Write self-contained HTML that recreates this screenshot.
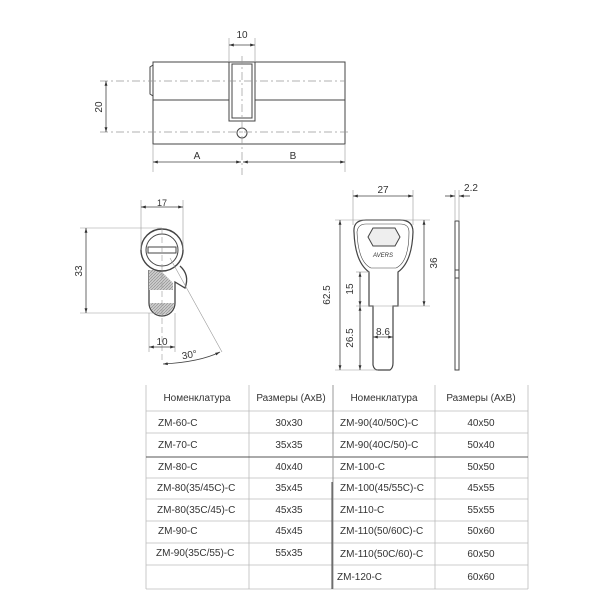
<!DOCTYPE html>
<html><head><style>body{margin:0;background:#fff}svg{display:block}text{font-family:"Liberation Sans",sans-serif;fill:#333}</style></head><body>
<svg width="600" height="600" viewBox="0 0 600 600" xmlns="http://www.w3.org/2000/svg">
<defs><marker id="a" viewBox="0 0 10 10" refX="10" refY="5" markerWidth="6" markerHeight="6" orient="auto-start-reverse"><path d="M0,2 L10,5 L0,8z" fill="#333"/></marker>
<pattern id="h" width="3" height="3" patternUnits="userSpaceOnUse"><rect width="3" height="3" fill="#ccc"/><path d="M0,3 L3,0" stroke="#888" stroke-width="0.6"/></pattern></defs>
<g stroke="#444" fill="none" stroke-width="1">
<rect x="153" y="62" width="192" height="82"/>
<line x1="153" y1="100" x2="345" y2="100"/>
<path d="M153,65 L150,67 L150,94 L153,96"/>
<rect x="229" y="62" width="26" height="59" fill="#fff"/>
<rect x="232" y="64" width="20" height="54"/>
<circle cx="242" cy="133" r="5" fill="#fff"/>
<g stroke="#999" stroke-width="0.7" stroke-dasharray="8,3,2,3"><line x1="100" y1="81" x2="345" y2="81"/><line x1="100" y1="132" x2="350" y2="132"/><line x1="242" y1="56" x2="242" y2="175"/></g>
<g stroke="#999" stroke-width="0.6"><line x1="229" y1="38" x2="229" y2="62"/><line x1="255" y1="38" x2="255" y2="62"/><line x1="153" y1="144" x2="153" y2="172"/><line x1="345" y1="144" x2="345" y2="172"/></g>
<line x1="229" y1="45" x2="255" y2="45" marker-start="url(#a)" marker-end="url(#a)" stroke-width="0.8"/>
<line x1="106" y1="81" x2="106" y2="132" marker-start="url(#a)" marker-end="url(#a)" stroke-width="0.8"/>
<line x1="153" y1="162" x2="241" y2="162" marker-start="url(#a)" marker-end="url(#a)" stroke-width="0.8"/>
<line x1="243" y1="162" x2="345" y2="162" marker-start="url(#a)" marker-end="url(#a)" stroke-width="0.8"/>
<path d="M149,270 L149,303 A12,12 0 0 0 175,303 L175,282 L185,288 Q190,275 180,266" fill="#fff" stroke-width="1.3"/>
<path d="M149,270 L149,290 L173,290 L173,283 L160,270z" fill="url(#h)" stroke="none"/>
<path d="M150,303 L174,303 A12,12 0 0 1 150,303z" fill="url(#h)" stroke="none"/>
<circle cx="162" cy="250" r="21" fill="#fff" stroke-width="1.4"/>
<circle cx="162" cy="250" r="16"/>
<rect x="148" y="247" width="28" height="6"/>
<g stroke="#999" stroke-width="0.6"><line x1="141" y1="200" x2="141" y2="250"/><line x1="183" y1="200" x2="183" y2="250"/><line x1="80" y1="228" x2="162" y2="228"/><line x1="80" y1="313" x2="160" y2="313"/><line x1="149" y1="313" x2="149" y2="352"/><line x1="175" y1="313" x2="175" y2="352"/><line x1="162" y1="228" x2="162" y2="360" stroke-dasharray="6,3"/><line x1="170" y1="258" x2="222" y2="352"/></g>
<line x1="141" y1="207" x2="183" y2="207" marker-start="url(#a)" marker-end="url(#a)" stroke-width="0.8"/>
<line x1="86" y1="228" x2="86" y2="313" marker-start="url(#a)" marker-end="url(#a)" stroke-width="0.8"/>
<line x1="149" y1="347" x2="175" y2="347" marker-start="url(#a)" marker-end="url(#a)" stroke-width="0.8"/>
<path d="M163,364 Q200,362 220,352" marker-start="url(#a)" marker-end="url(#a)" stroke-width="0.8"/>
<path d="M369,272 L369,306 L373,306 L373,365 Q374,370 378,370 L390,370 Q393,368 393,363 L393,306 L398,306 L398,272 Q412,262 413,232 Q413,220 400,220 L366,220 Q353,220 354,232 Q355,262 369,272z" fill="#fff" stroke-width="1.2"/>
<path d="M357,232 Q358,224 366,224 L400,224 Q409,224 409,232 Q409,262 396,268 L371,268 Q358,262 357,232z" stroke-width="0.6"/>
<path d="M368,237 L373,228 L395,228 L400,237 L395,246 L373,246z" fill="#eee" stroke-width="1"/>
<rect x="455" y="221" width="4" height="149" stroke-width="1"/>
<line x1="455" y1="270" x2="459" y2="270"/><line x1="455" y1="278" x2="459" y2="278"/>
<g stroke="#999" stroke-width="0.6"><line x1="353" y1="190" x2="353" y2="225"/><line x1="413" y1="190" x2="413" y2="225"/><line x1="335" y1="220" x2="430" y2="220"/><line x1="335" y1="370" x2="378" y2="370"/><line x1="356" y1="306" x2="430" y2="306"/><line x1="356" y1="272" x2="370" y2="272"/><line x1="455" y1="190" x2="455" y2="221"/><line x1="459" y1="190" x2="459" y2="221"/></g>
<line x1="353" y1="196" x2="413" y2="196" marker-start="url(#a)" marker-end="url(#a)" stroke-width="0.8"/>
<line x1="424" y1="220" x2="424" y2="306" marker-start="url(#a)" marker-end="url(#a)" stroke-width="0.8"/>
<line x1="340" y1="220" x2="340" y2="370" marker-start="url(#a)" marker-end="url(#a)" stroke-width="0.8"/>
<line x1="360" y1="272" x2="360" y2="306" marker-start="url(#a)" marker-end="url(#a)" stroke-width="0.8"/>
<line x1="360" y1="306" x2="360" y2="370" marker-start="url(#a)" marker-end="url(#a)" stroke-width="0.8"/>
<line x1="373" y1="337" x2="393" y2="337" marker-start="url(#a)" marker-end="url(#a)" stroke-width="0.8"/>
<line x1="445" y1="196" x2="455" y2="196" marker-end="url(#a)" stroke-width="0.8"/>
<line x1="470" y1="196" x2="459" y2="196" marker-end="url(#a)" stroke-width="0.8"/>
<g stroke="#bbb" stroke-width="0.8">
<line x1="146" y1="411" x2="528" y2="411"/><line x1="146" y1="433" x2="528" y2="433"/><line x1="146" y1="478" x2="528" y2="478"/><line x1="146" y1="499" x2="528" y2="499"/><line x1="146" y1="521" x2="528" y2="521"/><line x1="146" y1="543" x2="528" y2="543"/><line x1="146" y1="565" x2="528" y2="565"/>
<line x1="146" y1="385" x2="146" y2="589"/><line x1="249" y1="385" x2="249" y2="589"/><line x1="435" y1="385" x2="435" y2="589"/><line x1="528" y1="385" x2="528" y2="589"/><line x1="146" y1="589" x2="528" y2="589"/></g>
<line x1="146" y1="457" x2="528" y2="457" stroke="#555"/>
<line x1="333" y1="385" x2="333" y2="589" stroke="#999"/>
<line x1="332" y1="482" x2="332" y2="589" stroke="#444"/>
</g>
<g font-size="10">
<text x="242" y="38" text-anchor="middle">10</text>
<text x="102" y="107" text-anchor="middle" transform="rotate(-90 102 107)">20</text>
<text x="197" y="159" text-anchor="middle">A</text>
<text x="293" y="159" text-anchor="middle">B</text>
<text x="162" y="206" text-anchor="middle" font-size="9">17</text>
<text x="82" y="271" text-anchor="middle" transform="rotate(-90 82 271)">33</text>
<text x="162" y="345" text-anchor="middle">10</text>
<text x="190" y="358" text-anchor="middle" transform="rotate(-10 190 358)">30°</text>
<text x="383" y="193" text-anchor="middle">27</text>
<text x="471" y="191" text-anchor="middle">2.2</text>
<text x="437" y="263" text-anchor="middle" transform="rotate(-90 437 263)">36</text>
<text x="330" y="295" text-anchor="middle" transform="rotate(-90 330 295)">62.5</text>
<text x="353" y="289" text-anchor="middle" transform="rotate(-90 353 289)">15</text>
<text x="353" y="338" text-anchor="middle" transform="rotate(-90 353 338)">26.5</text>
<text x="383" y="335" text-anchor="middle">8.6</text>
<text x="383" y="257" text-anchor="middle" font-size="6" font-style="italic" fill="#888">AVERS</text>
</g>
<g font-size="10">
<text x="197" y="401" text-anchor="middle">Номенклатура</text><text x="291" y="401" text-anchor="middle">Размеры (AxB)</text><text x="384" y="401" text-anchor="middle">Номенклатура</text><text x="481" y="401" text-anchor="middle">Размеры (AxB)</text>
<text x="158" y="426">ZM-60-C</text><text x="289" y="426" text-anchor="middle">30x30</text><text x="340" y="426">ZM-90(40/50C)-C</text><text x="481" y="426" text-anchor="middle">40x50</text>
<text x="158" y="448">ZM-70-C</text><text x="289" y="448" text-anchor="middle">35x35</text><text x="340" y="448">ZM-90(40C/50)-C</text><text x="481" y="448" text-anchor="middle">50x40</text>
<text x="158" y="470">ZM-80-C</text><text x="289" y="470" text-anchor="middle">40x40</text><text x="340" y="470">ZM-100-C</text><text x="481" y="470" text-anchor="middle">50x50</text>
<text x="157" y="491">ZM-80(35/45C)-C</text><text x="289" y="491" text-anchor="middle">35x45</text><text x="340" y="491">ZM-100(45/55C)-C</text><text x="481" y="491" text-anchor="middle">45x55</text>
<text x="157" y="513">ZM-80(35C/45)-C</text><text x="289" y="513" text-anchor="middle">45x35</text><text x="340" y="513">ZM-110-C</text><text x="481" y="513" text-anchor="middle">55x55</text>
<text x="158" y="534">ZM-90-C</text><text x="289" y="534" text-anchor="middle">45x45</text><text x="340" y="534">ZM-110(50/60C)-C</text><text x="481" y="534" text-anchor="middle">50x60</text>
<text x="156" y="556">ZM-90(35C/55)-C</text><text x="289" y="556" text-anchor="middle">55x35</text><text x="340" y="557">ZM-110(50C/60)-C</text><text x="481" y="557" text-anchor="middle">60x50</text>
<text x="337" y="580">ZM-120-C</text><text x="481" y="580" text-anchor="middle">60x60</text>
</g>
</svg>
</body></html>
